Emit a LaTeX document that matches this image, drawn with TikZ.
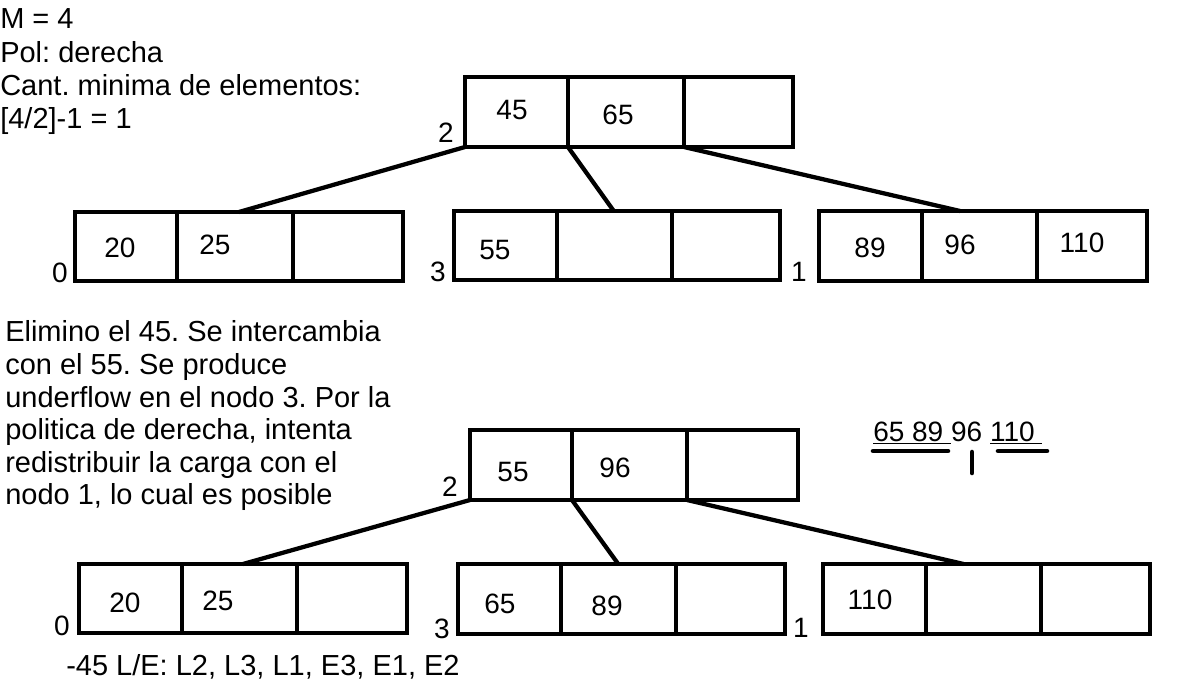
\documentclass[tikz,border=0pt]{standalone}
\usepackage{fontspec}
\setmainfont{Liberation Sans}
\usetikzlibrary{calc}
\frenchspacing
\tikzset{
  cellsty/.style={draw, line width=3.2pt, inner sep=0pt, outer sep=0pt},
  num/.style={inner sep=0pt, font=\fontsize{21}{25}\selectfont},
  txt/.style={inner sep=0pt, anchor=base west, font=\fontsize{21.75}{25}\selectfont},
  edgeline/.style={line width=3.2pt},
  tickline/.style={line width=3.4pt, line cap=round}
}
\newcommand\cellbox[5]{\node[cellsty, minimum width={(#3-#2)*0.75pt}, minimum height={(#5-#4)*0.75pt}] (#1) at ({(#2+#3)/2},{(#4+#5)/2}) {};}
\begin{document}
\begin{tikzpicture}[x=0.75pt,y=-0.75pt]
\useasboundingbox (0,0) rectangle (1204,682);
% ---------- texts ----------
\node[txt] (t1) at (0,28) {M = 4};
\node[txt] (t2) at (0,62) {Pol: derecha};
\node[txt] (t3) at (0,95) {Cant. minima de elementos:};
\node[txt] (t4) at (0,128) {[4/2]-1 = 1};
\node[txt] (d1) at (5,341) {Elimino el 45. Se intercambia};
\node[txt] (d2) at (5,374) {con el 55. Se produce};
\node[txt] (d3) at (5,407) {underflow en el nodo 3. Por la};
\node[txt] (d4) at (5,439) {politica de derecha, intenta};
\node[txt] (d5) at (5,472) {redistribuir la carga con el};
\node[txt] (d6) at (5,504) {nodo 1, lo cual es posible};
\node[txt] (le) at (66,675) {-45 L/E: L2, L3, L1, E3, E1, E2};
\node[num, anchor=base west] (seq) at (873,441) {\underline{65 89 }96 \underline{110 }};
\coordinate (u1a) at (873,451); \coordinate (u1b) at (948,451);
\coordinate (u2a) at (998,451); \coordinate (u2b) at (1047,451);
\coordinate (vka) at (972,452); \coordinate (vkb) at (972,473);
\draw[tickline] (u1a) -- (u1b);
\draw[tickline] (u2a) -- (u2b);
\draw[tickline] (vka) -- (vkb);
% ---------- top tree ----------
\cellbox{Ra}{465}{568}{77}{147}
\cellbox{Rb}{568}{684}{77}{147}
\cellbox{Rc}{684}{793}{77}{147}
\cellbox{La}{75}{177}{212}{281}
\cellbox{Lb}{177}{293}{212}{281}
\cellbox{Lc}{293}{403}{212}{281}
\cellbox{Ma}{454}{557}{211}{280}
\cellbox{Mb}{557}{672}{211}{280}
\cellbox{Mc}{672}{780}{211}{280}
\cellbox{Na}{819}{922}{211}{281}
\cellbox{Nb}{922}{1037}{211}{281}
\cellbox{Nc}{1037}{1147}{211}{281}
\draw[edgeline] (Ra.south west) -- ($(La.north west)!0.5!(Lc.north east)$);
\draw[edgeline] (Rb.south west) -- ($(Ma.north west)!0.49!(Mc.north east)$);
\draw[edgeline] (Rc.south west) -- ($(Na.north west)!0.43!(Nc.north east)$);
\node[num] (v45) at (512,110) {45};
\node[num] (v65) at (618,115) {65};
\node[num] (v20) at (120,248) {20};
\node[num] (v25) at (215,245) {25};
\node[num] (v55) at (495,250) {55};
\node[num] (v89) at (870,248) {89};
\node[num] (v96) at (960,245) {96};
\node[num] (v110) at (1082,243) {110};
\node[num] (l2) at (446,133) {2};
\node[num] (l0) at (60,273) {0};
\node[num] (l3) at (438,272) {3};
\node[num] (l1) at (799,272) {1};
% ---------- bottom tree ----------
\cellbox{Sa}{470}{572}{430}{500}
\cellbox{Sb}{572}{687}{430}{500}
\cellbox{Sc}{687}{798}{430}{500}
\cellbox{Pa}{79}{182}{564}{633}
\cellbox{Pb}{182}{297}{564}{633}
\cellbox{Pc}{297}{407}{564}{633}
\cellbox{Qa}{458}{561}{564}{634}
\cellbox{Qb}{561}{676}{564}{634}
\cellbox{Qc}{676}{785}{564}{634}
\cellbox{Ta}{823}{926}{564}{634}
\cellbox{Tb}{926}{1041}{564}{634}
\cellbox{Tc}{1041}{1150}{564}{634}
\draw[edgeline] (Sa.south west) -- ($(Pa.north west)!0.5!(Pc.north east)$);
\draw[edgeline] (Sb.south west) -- ($(Qa.north west)!0.49!(Qc.north east)$);
\draw[edgeline] (Sc.south west) -- ($(Ta.north west)!0.43!(Tc.north east)$);
\node[num] (w55) at (513,472) {55};
\node[num] (w96) at (615,468) {96};
\node[num] (w20) at (125,603) {20};
\node[num] (w25) at (218,601) {25};
\node[num] (w65) at (500,604) {65};
\node[num] (w89) at (607,606) {89};
\node[num] (w110) at (870,600) {110};
\node[num] (m2) at (450,487) {2};
\node[num] (m0) at (62,626) {0};
\node[num] (m3) at (442,629) {3};
\node[num] (m1) at (801,628) {1};
\end{tikzpicture}
\end{document}
